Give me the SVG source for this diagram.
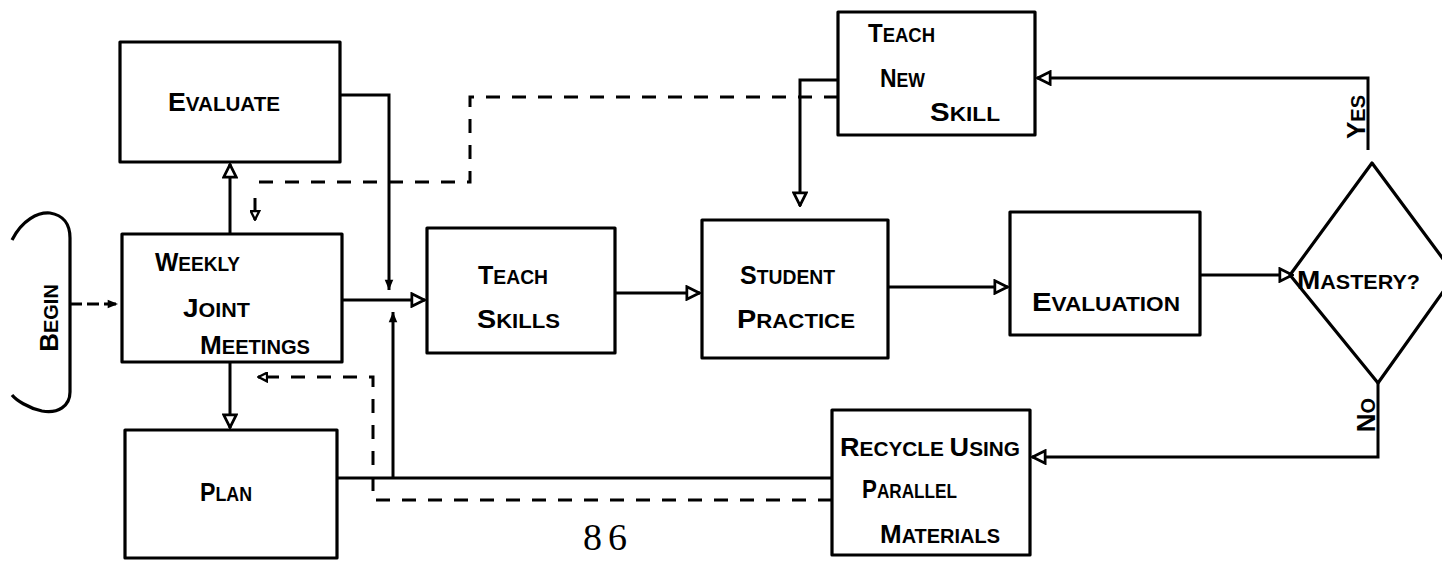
<svg xmlns="http://www.w3.org/2000/svg" width="1442" height="561" viewBox="0 0 1442 561">
<style>
.box{fill:none;stroke:#000;stroke-width:3.2;stroke-linejoin:round}
.ln{fill:none;stroke:#000;stroke-width:3}
.dash{fill:none;stroke:#000;stroke-width:3;stroke-dasharray:14 12}
.t{font-family:"Liberation Sans",Arial,sans-serif;font-size:20px;font-weight:bold;fill:#000}
.c{font-size:26px}
</style>
<defs>
<marker id="open" viewBox="0 0 14 14" refX="13" refY="7" markerWidth="16" markerHeight="16" markerUnits="userSpaceOnUse" orient="auto">
<path d="M1.5,1.5 L12.5,7 L1.5,12.5 z" fill="#fff" stroke="#000" stroke-width="2.4"/>
</marker>
<marker id="small" viewBox="0 0 14 14" refX="13" refY="7" markerWidth="11" markerHeight="11" markerUnits="userSpaceOnUse" orient="auto">
<path d="M1.5,1.5 L12.5,7 L1.5,12.5 z" fill="#fff" stroke="#000" stroke-width="3"/>
</marker>
<marker id="fill" viewBox="0 0 14 14" refX="13" refY="7" markerWidth="12" markerHeight="12" markerUnits="userSpaceOnUse" orient="auto">
<path d="M1,2 L13,7 L1,12 z" fill="#000"/>
</marker>
</defs>
<rect width="1442" height="561" fill="#fff"/>

<g id="connectors">
<path class="ln" d="M70,304 H118" stroke-dasharray="12 5" marker-end="url(#fill)"/>
<path class="ln" d="M230,234 V164" marker-end="url(#open)"/>
<path class="ln" d="M230,362 V428" marker-end="url(#open)"/>
<path class="ln" d="M340,95 H389 V290" marker-end="url(#fill)"/>
<path class="ln" d="M337,478 H832"/>
<path class="ln" d="M393,478 V312" marker-end="url(#fill)"/>
<path class="ln" d="M342,300 H425" marker-end="url(#open)"/>
<path class="ln" d="M615,293 H700" marker-end="url(#open)"/>
<path class="ln" d="M888,287 H1008" marker-end="url(#open)"/>
<path class="ln" d="M1200,275 H1293" marker-end="url(#open)"/>
<path class="ln" d="M1368,150 V78 H1037" marker-end="url(#open)"/>
<path class="ln" d="M1378,383 V457 H1032" marker-end="url(#open)"/>
<path class="ln" d="M838,80 H800 V206" marker-end="url(#open)"/>
<path class="dash" d="M838,97 H470 V182 H255"/>
<path class="ln" d="M255,198 V220" marker-end="url(#small)"/>
<path class="dash" d="M832,500 H373 V377 H272"/>
<path class="ln" d="M272,377 H258" marker-end="url(#small)"/>
</g>

<g id="begin">
<path class="box" d="M12,240 C22,220 38,212 50,213 C63,215 70,224 70,238 V392 C70,406 58,414 42,411 C28,408 16,400 12,395"/>
<text class="t" transform="translate(58,318) rotate(-90)" text-anchor="middle"><tspan class="c">B</tspan>EGIN</text>
</g>

<g id="evaluate">
<rect class="box" x="120" y="42" width="220" height="120"/>
<text class="t" x="168" y="111" textLength="112" lengthAdjust="spacingAndGlyphs"><tspan class="c">E</tspan>VALUATE</text>
</g>

<g id="weekly">
<rect class="box" x="122" y="234" width="220" height="128"/>
<text class="t" x="155" y="271" textLength="85" lengthAdjust="spacingAndGlyphs"><tspan class="c">W</tspan>EEKLY</text>
<text class="t" x="183" y="317" textLength="67" lengthAdjust="spacingAndGlyphs"><tspan class="c">J</tspan>OINT</text>
<text class="t" x="200" y="354" textLength="110" lengthAdjust="spacingAndGlyphs"><tspan class="c">M</tspan>EETINGS</text>
</g>

<g id="plan">
<rect class="box" x="125" y="430" width="212" height="128"/>
<text class="t" x="200" y="501" textLength="52" lengthAdjust="spacingAndGlyphs"><tspan class="c">P</tspan>LAN</text>
</g>

<g id="teach-skills">
<rect class="box" x="427" y="228" width="188" height="125"/>
<text class="t" x="478" y="284" textLength="70" lengthAdjust="spacingAndGlyphs"><tspan class="c">T</tspan>EACH</text>
<text class="t" x="477" y="328" textLength="83" lengthAdjust="spacingAndGlyphs"><tspan class="c">S</tspan>KILLS</text>
</g>

<g id="student-practice">
<rect class="box" x="702" y="220" width="186" height="138"/>
<text class="t" x="740" y="284" textLength="95" lengthAdjust="spacingAndGlyphs"><tspan class="c">S</tspan>TUDENT</text>
<text class="t" x="737" y="328" textLength="118" lengthAdjust="spacingAndGlyphs"><tspan class="c">P</tspan>RACTICE</text>
</g>

<g id="evaluation">
<rect class="box" x="1010" y="212" width="190" height="123"/>
<text class="t" x="1032" y="311" textLength="148" lengthAdjust="spacingAndGlyphs"><tspan class="c">E</tspan>VALUATION</text>
</g>

<g id="teach-new-skill">
<rect class="box" x="838" y="12" width="197" height="123"/>
<text class="t" x="868" y="42" textLength="67" lengthAdjust="spacingAndGlyphs"><tspan class="c">T</tspan>EACH</text>
<text class="t" x="880" y="87" textLength="45" lengthAdjust="spacingAndGlyphs"><tspan class="c">N</tspan>EW</text>
<text class="t" x="930" y="121" textLength="70" lengthAdjust="spacingAndGlyphs"><tspan class="c">S</tspan>KILL</text>
</g>

<g id="mastery">
<polygon class="box" points="1372,163 1455,275 1378,383 1290,275"/>
<text class="t" x="1297" y="289" textLength="123" lengthAdjust="spacingAndGlyphs"><tspan class="c">M</tspan>ASTERY?</text>
</g>

<g id="recycle">
<rect class="box" x="832" y="410" width="198" height="145"/>
<text class="t" x="840" y="456" textLength="180" lengthAdjust="spacingAndGlyphs"><tspan class="c">R</tspan>ECYCLE <tspan class="c">U</tspan>SING</text>
<text class="t" x="862" y="498" textLength="95" lengthAdjust="spacingAndGlyphs"><tspan class="c">P</tspan>ARALLEL</text>
<text class="t" x="880" y="543" textLength="120" lengthAdjust="spacingAndGlyphs"><tspan class="c">M</tspan>ATERIALS</text>
</g>

<g id="labels">
<text class="t" transform="translate(1365,117) rotate(-90)" text-anchor="middle"><tspan class="c">Y</tspan>ES</text>
<text class="t" transform="translate(1375,415) rotate(-90)" text-anchor="middle"><tspan class="c">N</tspan>O</text>
<text x="608" y="550" text-anchor="middle" font-family="Liberation Serif, serif" font-size="38" letter-spacing="6">86</text>
</g>
</svg>
